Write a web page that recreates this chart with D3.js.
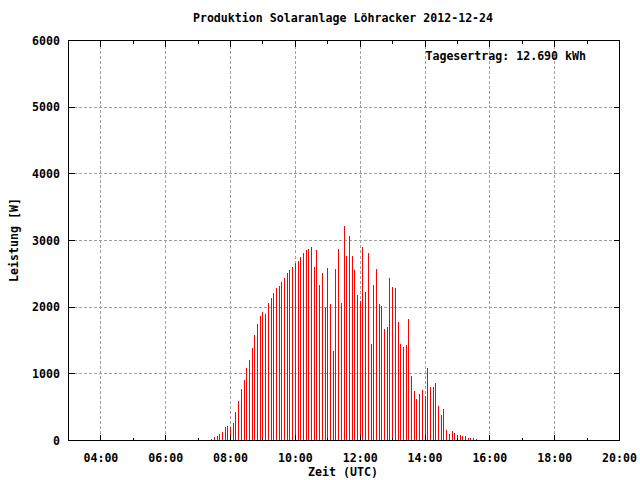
<!DOCTYPE html>
<html><head><meta charset="utf-8">
<script src="https://cdn.jsdelivr.net/npm/d3@7"></script>
<style>
html,body{margin:0;padding:0;background:#fff;}
text{font-family:"DejaVu Sans Mono",monospace;font-weight:bold;font-size:11.6px;fill:#000;}
</style></head>
<body>
<svg id="c" width="640" height="480"></svg>
<script>
// ---- data ----
const title = "Produktion Solaranlage Löhracker 2012-12-24";
const yieldLabel = "Tagesertrag: 12.690 kWh";
const xLabel = "Zeit (UTC)";
const yLabel = "Leistung [W]";
const yTicks = [0, 1000, 2000, 3000, 4000, 5000, 6000];
const xTickLabels = ["04:00","06:00","08:00","10:00","12:00","14:00","16:00","18:00","20:00"];
const xMinorLabels = ["05:00","07:00","09:00","11:00","13:00","15:00","17:00","19:00"];
const powerTimes = ["07:10","07:15","07:20","07:25","07:30","07:35","07:40","07:45","07:50","07:55",
"08:00","08:05","08:10","08:15","08:20","08:25","08:30","08:35","08:40","08:45","08:50","08:55",
"09:00","09:05","09:10","09:15","09:20","09:25","09:30","09:35","09:40","09:45","09:50","09:55",
"10:00","10:05","10:10","10:15","10:20","10:25","10:30","10:35","10:40","10:45","10:50","10:55",
"11:00","11:05","11:10","11:15","11:20","11:25","11:30","11:35","11:40","11:45","11:50","11:55",
"12:00","12:05","12:10","12:15","12:20","12:25","12:30","12:35","12:40","12:45","12:50","12:55",
"13:00","13:05","13:10","13:15","13:20","13:25","13:30","13:35","13:40","13:45","13:50","13:55",
"14:00","14:05","14:10","14:15","14:20","14:25","14:30","14:35","14:40","14:45","14:50","14:55",
"15:00","15:05","15:10","15:15","15:20","15:25","15:30","15:35"];
const powerValues = [15,15,15,30,50,70,95,135,210,225,
210,270,435,600,780,915,1085,1215,1395,1590,1755,1875,
1935,1905,2070,2145,2220,2295,2325,2385,2445,2520,2565,2610,
2665,2695,2750,2810,2855,2870,2900,2600,2855,2330,2510,1985,
2585,2045,1340,2570,2870,2060,3215,2765,3065,2765,2555,2180,
2090,2900,2225,2810,1445,2330,2570,2045,2015,1670,1700,2435,
2300,2285,1775,1445,1400,1430,1820,965,740,620,695,755,
665,1085,800,800,860,515,380,470,155,95,140,110,
80,80,65,65,35,35,35,20];
const markTimes = ["07:00","16:00"];
const markValues = [30, 65];

// ---- drawing ----
const toMin = s => { const [h,m] = s.split(":").map(Number); return h*60+m; };
const svg = d3.select("#c");
const L = 68.5, R = 619.5, T = 40.5, B = 440.5;
const x = d3.scaleLinear().domain([toMin("03:00"), toMin("20:00")]).range([L, R]);
const y = d3.scaleLinear().domain([0, 6000]).range([B, T]);
const px = v => Math.round(x(v) - 0.5) + 0.5;
const py = v => Math.round(y(v) - 0.5) + 0.5;

const g = svg.append("g").attr("shape-rendering","crispEdges");

// grid
g.selectAll(".gx").data(xTickLabels.filter(d => d !== "20:00")).enter().append("line")
  .attr("x1", d => px(toMin(d))).attr("x2", d => px(toMin(d)))
  .attr("y1", T).attr("y2", B)
  .attr("stroke","#a0a0a0").attr("stroke-dasharray","3,2");
g.selectAll(".gy").data(yTicks.filter(d => d > 0 && d < 6000)).enter().append("line")
  .attr("x1", L).attr("x2", R)
  .attr("y1", d => py(d)).attr("y2", d => py(d))
  .attr("stroke","#a0a0a0").attr("stroke-dasharray","3,2");

// bars (impulses)
g.selectAll(".bar").data(powerTimes.map((t,i) => ({t, v: powerValues[i]}))).enter().append("line")
  .attr("x1", d => px(toMin(d.t))).attr("x2", d => px(toMin(d.t)))
  .attr("y1", y(0)).attr("y2", d => y(d.v))
  .attr("stroke","#ff0000").attr("stroke-width",1);
g.selectAll(".mark").data(markTimes.map((t,i) => ({t, v: markValues[i]}))).enter().append("line")
  .attr("x1", d => px(toMin(d.t))).attr("x2", d => px(toMin(d.t)))
  .attr("y1", y(0)).attr("y2", d => y(d.v))
  .attr("stroke","#000").attr("stroke-width",1);

// ticks
const tk = g.append("g").attr("stroke","#000");
xTickLabels.forEach(d => {
  const xv = px(toMin(d));
  tk.append("line").attr("x1",xv).attr("x2",xv).attr("y1",B).attr("y2",B-6);
  tk.append("line").attr("x1",xv).attr("x2",xv).attr("y1",T).attr("y2",T+6);
});
xMinorLabels.forEach(d => {
  const xv = px(toMin(d));
  tk.append("line").attr("x1",xv).attr("x2",xv).attr("y1",B).attr("y2",B-3);
  tk.append("line").attr("x1",xv).attr("x2",xv).attr("y1",T).attr("y2",T+3);
});
yTicks.forEach(d => {
  const yv = py(d);
  tk.append("line").attr("x1",L).attr("x2",L+6).attr("y1",yv).attr("y2",yv);
  tk.append("line").attr("x1",R).attr("x2",R-6).attr("y1",yv).attr("y2",yv);
});

// frame
g.append("rect").attr("x",L).attr("y",T).attr("width",R-L).attr("height",B-T)
  .attr("fill","none").attr("stroke","#000");

// labels
svg.selectAll(".yl").data(yTicks).enter().append("text")
  .attr("x", 60).attr("y", d => y(d)).attr("dy","0.35em").attr("text-anchor","end").text(d => d);
svg.selectAll(".xl").data(xTickLabels).enter().append("text")
  .attr("x", d => x(toMin(d))).attr("y", 458).attr("dy","0.35em").attr("text-anchor","middle").text(d => d);
svg.append("text").attr("x", 343).attr("y", 472).attr("dy","0.35em").attr("text-anchor","middle").text(xLabel);
svg.append("text").attr("transform","translate(14,240) rotate(-90)").attr("dy","0.35em").attr("text-anchor","middle").text(yLabel);
svg.append("text").attr("x", 343).attr("y", 18).attr("dy","0.35em").attr("text-anchor","middle").text(title);
svg.append("text").attr("x", 586).attr("y", 56).attr("dy","0.35em").attr("text-anchor","end").text(yieldLabel);
</script>
</body></html>
